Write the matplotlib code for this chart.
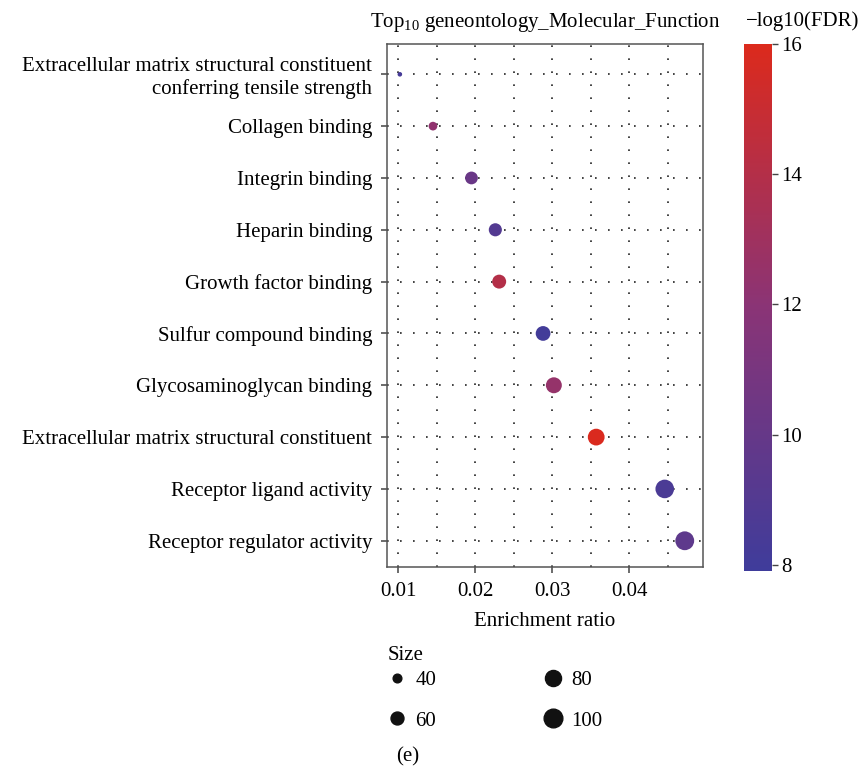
import matplotlib
matplotlib.use("Agg")
import matplotlib.pyplot as plt
from matplotlib.colors import LinearSegmentedColormap, Normalize
from matplotlib.lines import Line2D
import numpy as np

plt.rcParams['font.family'] = ['Liberation Serif', 'DejaVu Serif']
plt.rcParams['mathtext.fontset'] = 'custom'
plt.rcParams['mathtext.rm'] = 'Liberation Serif'

# GO molecular function terms, top to bottom
terms = [
    "Extracellular matrix structural constituent\nconferring tensile strength",
    "Collagen binding",
    "Integrin binding",
    "Heparin binding",
    "Growth factor binding",
    "Sulfur compound binding",
    "Glycosaminoglycan binding",
    "Extracellular matrix structural constituent",
    "Receptor ligand activity",
    "Receptor regulator activity",
]
enrichment = [0.0102, 0.0145, 0.0195, 0.0226, 0.0231, 0.0288, 0.0302, 0.0357, 0.0446, 0.0472]
neg_log_fdr = [8.3, 12.3, 10.2, 9.0, 14.0, 8.1, 12.5, 15.9, 8.6, 9.6]
gene_size = [28, 40, 59, 61, 66, 71, 79, 85, 99, 101]

legend_sizes = [40, 60, 80, 100]
x_ticks = [0.01, 0.02, 0.03, 0.04]
cbar_ticks = [8, 10, 12, 14, 16]

FS = 15

cmap = LinearSegmentedColormap.from_list("fdr", ["#3F3C9B", "#8A3476", "#DC2A1C"])
norm = Normalize(vmin=7.91, vmax=16.0)


def size_area(v):
    # marker area in pt^2, area grows linearly with size
    d2 = 4.57 * np.asarray(v, dtype=float) - 107.0
    return 0.5184 * d2


fig = plt.figure(figsize=(8.58, 7.69), dpi=100)
ax = fig.add_axes([0.4514, 0.2631, 0.3676, 0.6797])

ypos = np.arange(len(terms))
ax.scatter(enrichment, ypos, s=size_area(gene_size), c=neg_log_fdr,
           cmap=cmap, norm=norm, linewidths=0, zorder=3)

ax.set_yticks(ypos)
ax.set_yticklabels(terms)
ax.set_xticks(x_ticks)
ax.set_xticklabels(["0.01", "0.02", "0.03", "0.04"])
ax.set_xticks(np.arange(0.015, 0.0451, 0.01), minor=True)
ax.set_ylim(9.50, -0.585)
ax.set_xlim(0.00857, 0.04953)
ax.tick_params(axis='x', which='minor', length=0)
ax.tick_params(axis='both', which='major', labelsize=FS, length=4,
               width=1.1, color='#444444')
ax.tick_params(axis='y', pad=7)
ax.tick_params(axis='x', pad=7)

dot_style = dict(color='#222222', linewidth=1.2, linestyle=(0, (1, 6.8)))
ax.grid(axis='y', which='major', **dot_style)
ax.grid(axis='x', which='both', **dot_style)
ax.set_axisbelow(True)
for sp in ax.spines.values():
    sp.set_color('#555555')
    sp.set_linewidth(1.1)

ax.set_xlabel("Enrichment ratio", fontsize=FS, labelpad=8)
ax.set_title("Top$_{\\mathrm{10}}$ geneontology_Molecular_Function",
             fontsize=FS, pad=12)

# colour bar for -log10(FDR)
cax = fig.add_axes([0.8671, 0.2579, 0.0323, 0.6849])
sm = plt.cm.ScalarMappable(norm=norm, cmap=cmap)
cb = fig.colorbar(sm, cax=cax, ticks=cbar_ticks)
cb.outline.set_visible(False)
cax.tick_params(labelsize=FS, length=4, width=1.0, color='#444444', pad=3)
fig.text(0.8695, 0.972, "\u2212log10(FDR)", fontsize=FS, ha='left', va='center')

# size legend
fig.text(0.452, 0.148, "Size", fontsize=FS, ha='left', va='center')
handles = [Line2D([], [], linestyle='none', marker='o', color='#111111',
                  markersize=np.sqrt(size_area(v))) for v in legend_sizes]
fig.legend(handles, [str(v) for v in legend_sizes], ncol=2,
           loc='center left', bbox_to_anchor=(0.450, 0.089), frameon=False,
           fontsize=FS, handlelength=1.0, handletextpad=0.4,
           columnspacing=5.1, labelspacing=1.0,
           borderaxespad=0, borderpad=0)

fig.text(0.4755, 0.016, "(e)", fontsize=FS, ha='center', va='center')

fig.savefig("out.png", dpi=100)
